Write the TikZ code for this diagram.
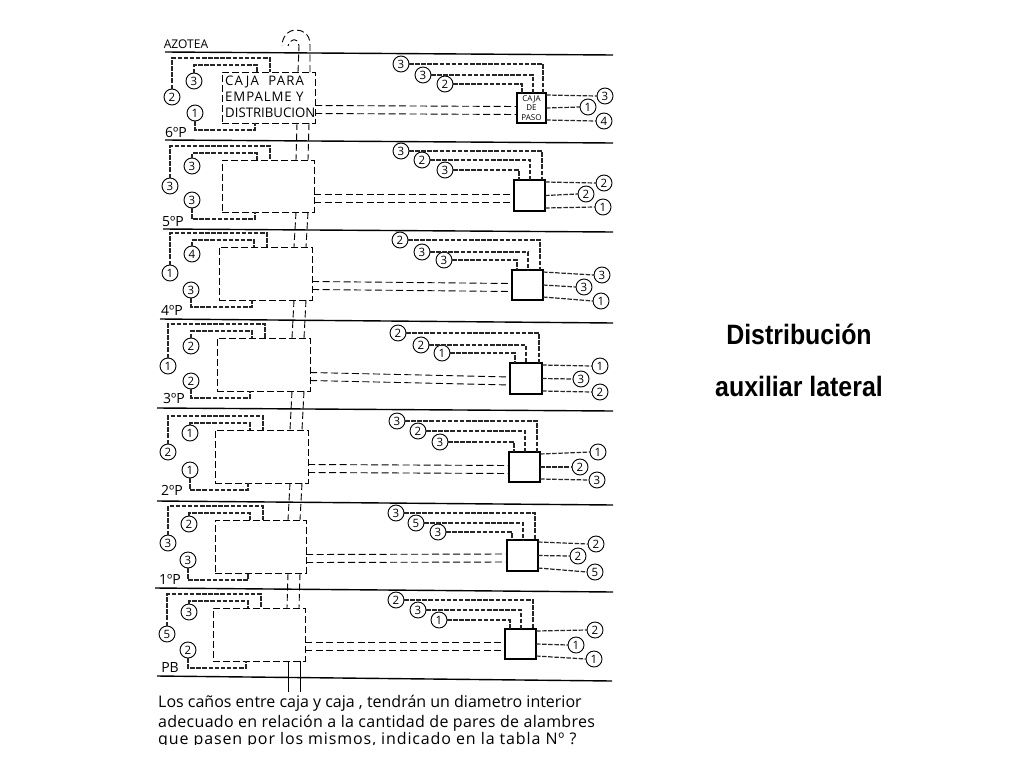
\documentclass[tikz,border=0pt]{standalone}
\usepackage{fontspec}
\setmainfont{Open Sans}
\newfontfamily\titlef[FakeStretch=0.89]{Liberation Sans}
\usetikzlibrary{calc}
\tikzset{
  slab/.style={line width=1.4pt,black},
  wire/.style={line width=1.2pt,black!85,dash pattern=on 4.5pt off 1.6pt},
  pipe/.style={line width=0.9pt,black,dash pattern=on 7pt off 3.5pt},
  solidpipe/.style={line width=0.9pt,black},
  mainbox/.style={draw,line width=0.9pt,dash pattern=on 7pt off 3pt,rectangle,inner sep=0pt,outer sep=0pt},
  smallbox/.style={draw,line width=1.2pt,rectangle,inner sep=0pt,outer sep=0pt},
  num/.style={draw,circle,line width=0.9pt,minimum size=16pt,inner sep=0pt,outer sep=0pt,font=\fontsize{11.5}{11.5}\selectfont},
  floorlabel/.style={font=\fontsize{14}{14}\selectfont,inner sep=0pt},
  rooflabel/.style={font=\fontsize{12}{12}\selectfont,inner sep=0pt},
  blocktext/.style={font=\fontsize{13.2}{16}\selectfont,align=left,inner sep=0pt},
  note/.style={font=\fontsize{16}{16}\selectfont,anchor=west,inner sep=0pt},
  titletext/.style={font=\titlef\bfseries\fontsize{28}{28}\selectfont,inner sep=0pt}
}
\newcommand{\slabline}[5]{%
  \coordinate (#1l) at (#2,#3);\coordinate (#1r) at (#4,#5);
  \draw[slab] (#1l) -- (#1r);}
\newcommand{\floorboxes}[9]{%
  \node[mainbox,minimum width=#4pt-#2pt,minimum height=#5pt-#3pt] (#1) at ({(#2+#4)/2},{(#3+#5)/2}) {};
  \node[smallbox,minimum width=#8pt-#6pt,minimum height=#9pt-#7pt] (#1s) at ({(#6+#8)/2},{(#7+#9)/2}) {};}
\newcommand{\circles}[7]{% id, then three labelled positions for a group
  \node[num] (#1a) at (#2) {#3};
  \node[num] (#1b) at (#4) {#5};
  \node[num] (#1c) at (#6) {#7};}
\newcommand{\wiring}[1]{%
  \draw[wire] (#1la.north) |- ([xshift=48pt,yshift=14pt]#1.north west) -- ([xshift=48pt]#1.north west);
  \draw[wire] (#1lb.north) |- ([xshift=35pt,yshift=7pt]#1.north west) -- ([xshift=35pt]#1.north west);
  \draw[wire] (#1lc.south) |- ([xshift=33pt,yshift=-7pt]#1.south west) -- ([xshift=33pt]#1.south west);
  \draw[wire] (#1ua.east) -| ([xshift=-3pt]#1s.north east);
  \draw[wire] (#1ub.east) -| ([xshift=16pt]#1s.north west);
  \draw[wire] (#1uc.east) -| ([xshift=5pt]#1s.north west);
  \draw[wire] ([yshift=-2pt]#1s.north east) -- (#1ra.west);
  \draw[wire] (#1s.east) -- (#1rb.west);
  \draw[wire] ([yshift=3pt]#1s.south east) -- (#1rc.west);
  \draw[pipe] ([yshift=-8pt]#1.east) -- ([yshift=1.5pt]#1s.west);
  \draw[pipe] ([yshift=-16pt]#1.east) -- ([yshift=-6.5pt]#1s.west);}
\newcommand{\risers}[2]{%
  \draw[pipe] ([xshift=-18pt]#1.south east) -- ([xshift=-18pt]#2.north east);
  \draw[pipe] ([xshift=-6pt]#1.south east) -- ([xshift=-6pt]#2.north east);}
\begin{document}
\begin{tikzpicture}[x=1pt,y=-1pt]
\useasboundingbox (0,0) rectangle (1024,768);
\fill[white] (0,0) rectangle (1024,768);
% floor slabs
\slabline{s0}{165}{52}{613}{55}
\slabline{s1}{165}{140}{613}{143}
\slabline{s2}{163}{229}{613}{232}
\slabline{s3}{160}{319}{613}{323}
\slabline{s4}{157}{408}{613}{411}
\slabline{s5}{157}{501}{613}{505}
\slabline{s6}{155}{588}{613}{592}
\slabline{s7}{157}{676}{612}{681}
% labels
\node[rooflabel] (lz) at (186,44) {AZOTEA};
\node[floorlabel] (l6) at (176,132) {6ºP};
\node[floorlabel] (l5) at (173,222) {5ºP};
\node[floorlabel] (l4) at (172,310) {4ºP};
\node[floorlabel] (l3) at (174,398) {3ºP};
\node[floorlabel] (l2) at (172,490) {2ºP};
\node[floorlabel] (l1) at (170,579) {1ºP};
\node[floorlabel] (l0) at (170,667) {PB};
% boxes
\floorboxes{f}{222}{72}{315}{123}{517}{93}{546}{123}
\floorboxes{e}{222}{160}{314}{212}{514}{180}{545}{211}
\floorboxes{d}{219}{247}{312}{300}{512}{270}{543}{300}
\floorboxes{c}{217}{338}{310}{391}{510}{363}{542}{394}
\floorboxes{g}{215}{430}{308}{483}{509}{452}{540}{482}
\floorboxes{h}{215}{520}{306}{573}{507}{540}{538}{571}
\floorboxes{k}{213}{608}{305}{661}{505}{629}{536}{659}
\node[blocktext,anchor=west] (ft) at (225,97) {\addfontfeatures{LetterSpace=9}CAJA \ PARA\\\addfontfeatures{LetterSpace=7}EMPALME Y\\DISTRIBUCION};
\node[font=\fontsize{8}{9.5}\selectfont,align=center,inner sep=0pt] (fst) at (fs) {CAJA\\DE\\PASO};
% circles: left, upper, right
\circles{fl}{172,97}{2}{194,81}{3}{195,113}{1}
\circles{fu}{401,64}{3}{423,75}{3}{445,84}{2}
\circles{fr}{605,96}{3}{588,107}{1}{604,121}{4}
\circles{el}{170,186}{3}{192,166}{3}{192,200}{3}
\circles{eu}{401,151}{3}{422,160}{2}{445,170}{3}
\circles{er}{604,183}{2}{586,194}{2}{603,207}{1}
\circles{dl}{170,273}{1}{192,254}{4}{191,290}{3}
\circles{du}{400,240}{2}{422,252}{3}{444,260}{3}
\circles{dr}{602,275}{3}{584,287}{3}{601,301}{1}
\circles{cl}{168,366}{1}{191,346}{2}{191,381}{2}
\circles{cu}{398,333}{2}{421,345}{2}{442,353}{1}
\circles{cr}{600,366}{1}{581,379}{3}{600,392}{2}
\circles{gl}{168,452}{2}{190,433}{1}{190,470}{1}
\circles{gu}{397,421}{3}{418,431}{2}{440,442}{3}
\circles{gr}{598,452}{1}{580,467}{2}{597,480}{3}
\circles{hl}{168,543}{3}{189,524}{2}{188,560}{3}
\circles{hu}{396,513}{3}{416,523}{5}{438,532}{3}
\circles{hr}{596,544}{2}{578,556}{2}{595,572}{5}
\circles{kl}{167,634}{5}{189,612}{3}{188,650}{2}
\circles{ku}{396,600}{2}{418,610}{3}{439,620}{1}
\circles{kr}{595,630}{2}{576,645}{1}{594,659}{1}
% wiring
\wiring{f}\wiring{e}\wiring{d}\wiring{c}\wiring{g}\wiring{h}\wiring{k}
\risers{f}{e}\risers{e}{d}\risers{d}{c}\risers{c}{g}\risers{g}{h}\risers{h}{k}
% roof loop
\draw[pipe] ([xshift=-5pt]f.north east) -- (310,45) .. controls (310,34) and (303,30) .. (296,30) .. controls (288,30) and (282,37) .. (282,46);
\draw[pipe] ([xshift=-17pt]f.north east) -- (299,46) .. controls (299,41) and (295,39) .. (293,40) .. controls (290,41) and (288,43) .. (288,46);
% below ground
\coordinate (ba) at (288,692);
\coordinate (bb) at (300,692);
\draw[solidpipe] ([xshift=-17pt]k.south east) -- (ba);
\draw[solidpipe] ([xshift=-5pt]k.south east) -- (bb);
% footnote
\node[note] (n1) at (158,703) {Los caños entre caja y caja , tendrán un diametro interior};
\node[note] (n2) at (158,723) {\addfontfeatures{LetterSpace=1.8}adecuado en relación a la cantidad de pares de alambres};
\begin{scope}
\clip (150,730) rectangle (620,744);
\node[note] (n3) at (158,740) {\addfontfeatures{LetterSpace=5.5}que pasen por los mismos, indicado en la tabla Nº ?};
\end{scope}
% title
\node[titletext] (t1) at (799,334) {Distribución};
\node[titletext] (t2) at (799,386) {auxiliar lateral};
\end{tikzpicture}
\end{document}
